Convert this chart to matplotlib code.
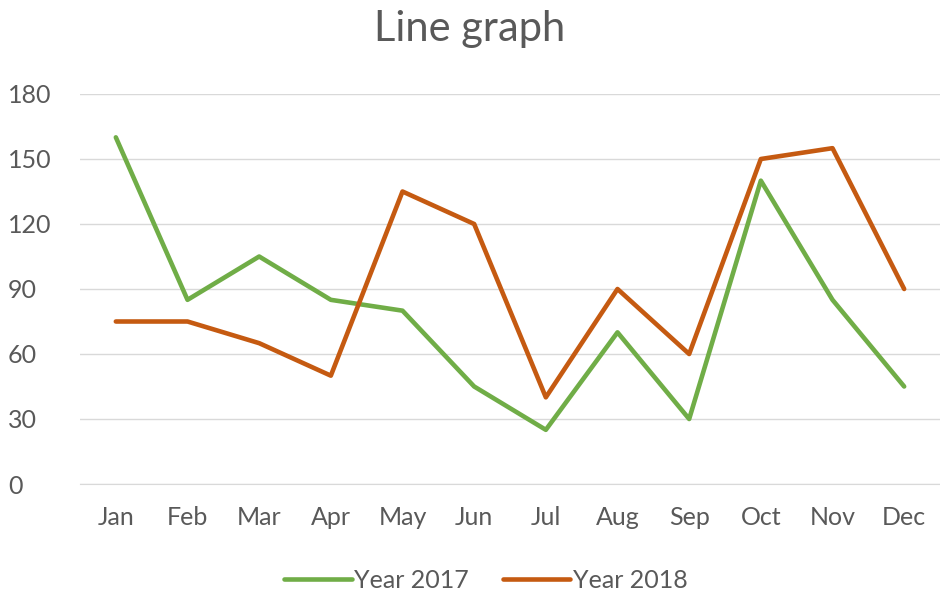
import matplotlib.pyplot as plt

months = ['Jan', 'Feb', 'Mar', 'Apr', 'May', 'Jun',
          'Jul', 'Aug', 'Sep', 'Oct', 'Nov', 'Dec']
year_2017 = [160, 85, 105, 85, 80, 45, 25, 70, 30, 140, 85, 45]
year_2018 = [75, 75, 65, 50, 135, 120, 40, 90, 60, 150, 155, 90]
y_ticks = [0, 30, 60, 90, 120, 150, 180]

text_col = '#595959'
plt.rcParams['font.family'] = ['Lato', 'DejaVu Sans']

fig = plt.figure(figsize=(9.4, 6.01), dpi=100)
ax = fig.add_axes([80 / 940, 1 - 484 / 601, 860 / 940, 390 / 601])

x = range(len(months))
ax.plot(x, year_2017, color='#70AD47', lw=3.3, label='Year 2017',
        solid_capstyle='round', solid_joinstyle='round')
ax.plot(x, year_2018, color='#C55A11', lw=3.3, label='Year 2018',
        solid_capstyle='round', solid_joinstyle='round')

ax.set_xlim(-0.5, len(months) - 0.5)
ax.set_ylim(0, 180)
ax.set_yticks(y_ticks)
ax.set_xticks(list(x))
ax.set_xticklabels(months)
ax.grid(axis='y', color='#D9D9D9', lw=1)
ax.set_axisbelow(True)
for s in ['top', 'right', 'left']:
    ax.spines[s].set_visible(False)
ax.spines['bottom'].set_color('#D9D9D9')
ax.tick_params(length=0, labelsize=18, labelcolor=text_col)
ax.tick_params(axis='x', pad=16)
ax.tick_params(axis='y', pad=52)
for lab in ax.get_yticklabels():
    lab.set_horizontalalignment('left')

fig.text(0.5, 1 - 29 / 601, 'Line graph', ha='center', va='center',
         fontsize=30, color=text_col)

# legend sits a little right of centre, as in the original
fig.legend(loc='center', bbox_to_anchor=(486 / 940, 1 - 580 / 601), ncol=2,
           frameon=False, fontsize=18, labelcolor=text_col,
           handlelength=2.7, handletextpad=0.1, columnspacing=1.35)

fig.savefig('out.png', dpi=100, facecolor='white')
